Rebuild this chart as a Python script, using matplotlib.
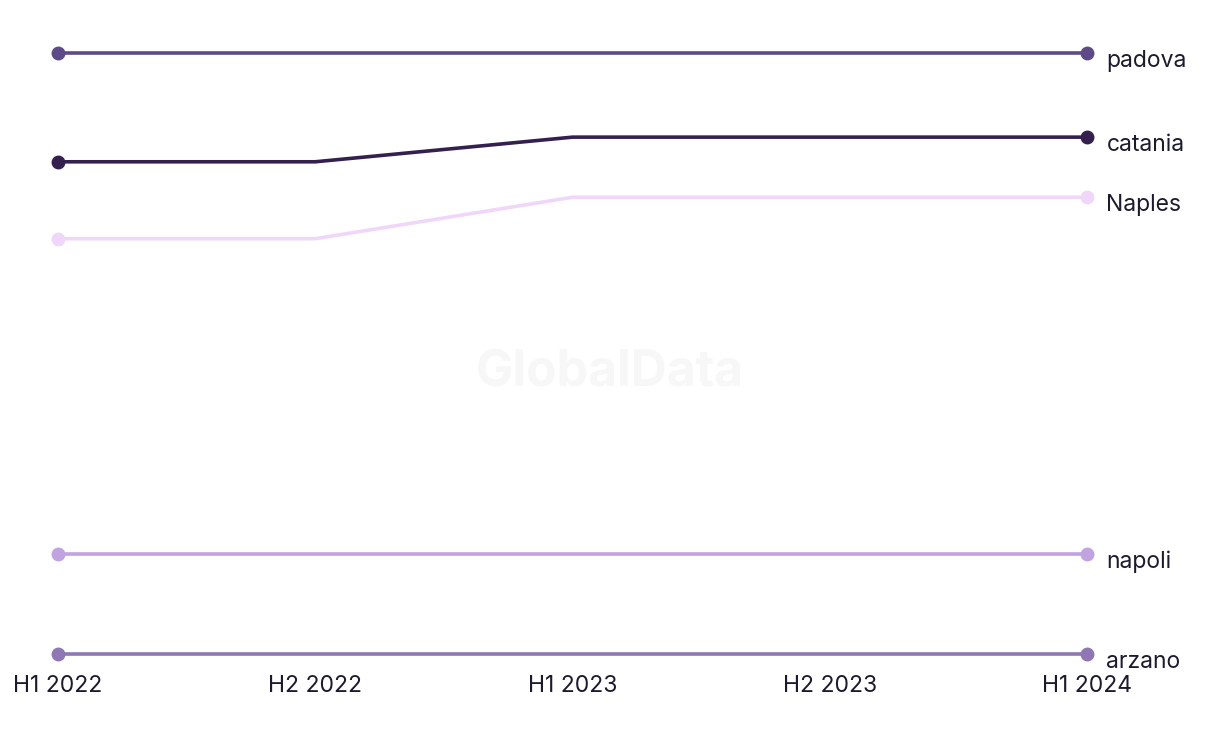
import matplotlib
matplotlib.use("Agg")
import matplotlib.pyplot as plt

periods = ["H1 2022", "H2 2022", "H1 2023", "H2 2023", "H1 2024"]
series_names = ["padova", "catania", "Naples", "napoli", "arzano"]
padova = [100, 100, 100, 100, 100]
catania = [81.9, 81.9, 86.0, 86.0, 86.0]
naples = [69.1, 69.1, 76.0, 76.0, 76.0]
napoli = [16.6, 16.6, 16.6, 16.6, 16.6]
arzano = [0, 0, 0, 0, 0]
colors = ["#5e4a87", "#33204f", "#f0d7fa", "#c0a3e0", "#8e77b3"]
values = [padova, catania, naples, napoli, arzano]

plt.rcParams['font.family'] = ['Inter', 'DejaVu Sans']
fig = plt.figure(figsize=(12.2, 7.44), dpi=100)
ax = fig.add_axes([58/1220, 90/744, (1087-58)/1220, (654-53)/744])
x = list(range(len(periods)))
for name, vals, c in zip(series_names, values, colors):
    ax.plot(x, vals, color=c, lw=2.6, solid_capstyle='round', zorder=2)
    ax.plot([x[0], x[-1]], [vals[0], vals[-1]], 'o', color=c, ms=9, zorder=3)
    ax.annotate(name, xy=(x[-1], vals[-1]), xytext=(14, -5.5), textcoords='offset points',
                ha='left', va='center', fontsize=16.5, color='#1c1b2e')
ax.set_xlim(0, len(periods) - 1)
ax.set_ylim(0, 100)
ax.set_xticks(x)
ax.set_xticklabels(periods, fontsize=16.5, color='#1c1b2e')
ax.tick_params(axis='x', length=0, pad=15)
ax.set_yticks([])
for s in ax.spines.values():
    s.set_visible(False)
ax.patch.set_alpha(0)
fig.text(610/1220, 1 - 373/744, "GlobalData", ha='center', va='center', fontsize=36,
         fontweight='bold', color='#f7f7f7', zorder=0)
for line in ax.lines:
    line.set_clip_on(False)
fig.savefig("out.png", dpi=100)
